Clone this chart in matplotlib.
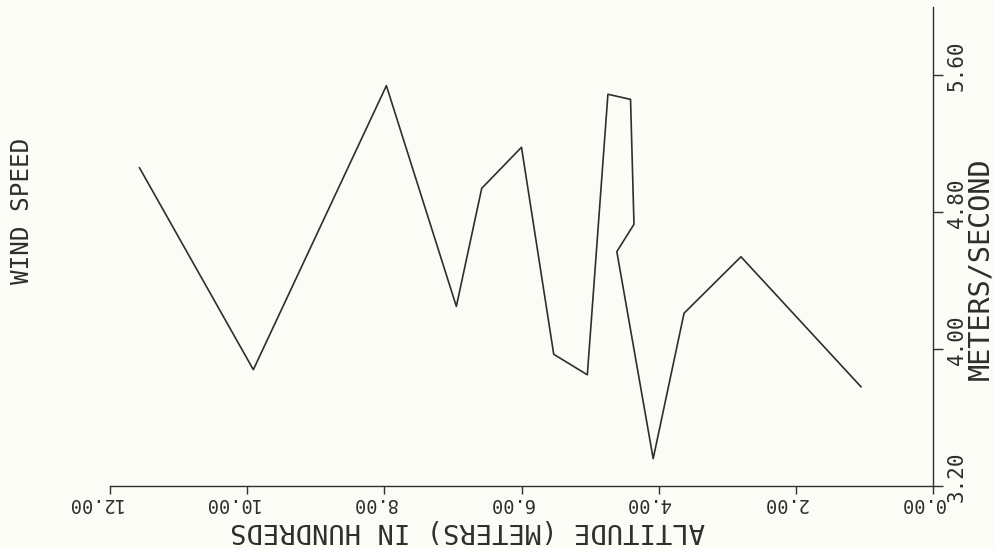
import matplotlib
matplotlib.use("Agg")
import matplotlib.pyplot as plt
from matplotlib.transforms import ScaledTranslation

# Data (altitude in hundreds of meters, wind speed in m/s), in plotting order
altitude = [11.57, 9.91, 7.97, 6.95, 6.58, 6.00, 5.53, 5.04, 4.74, 4.41,
            4.36, 4.61, 4.08, 3.63, 2.80, 1.05]
wind_speed = [5.06, 3.88, 5.54, 4.25, 4.94, 5.18, 3.97, 3.85, 5.49, 5.46,
              4.73, 4.57, 3.36, 4.21, 4.54, 3.78]

x_ticks = [0, 2, 4, 6, 8, 10, 12]
x_ticklabels = ["0.00", "2.00", "4.00", "6.00", "8.00", "10.00", "12.00"]
y_ticks = [3.2, 4.0, 4.8, 5.6]
y_ticklabels = ["3.20", "4.00", "4.80", "5.60"]

x_title = "ALTITUDE (METERS) IN HUNDREDS"
y_title = "METERS/SECOND"
side_title = "WIND SPEED"

BG = "#fcfcf7"
INK = "#2e2e2e"
FONT = "DejaVu Sans Mono"

fig = plt.figure(figsize=(9.95, 5.48), dpi=100, facecolor=BG)
ax = fig.add_axes([110 / 995, 62 / 548, 823 / 995, 479 / 548])
ax.set_facecolor(BG)

ax.plot(altitude, wind_speed, color=INK, linewidth=1.2)

ax.set_xlim(12, 0)
ax.set_ylim(3.2, 6.0)

for s in ["left", "top"]:
    ax.spines[s].set_visible(False)
for s in ["bottom", "right"]:
    ax.spines[s].set_color(INK)
    ax.spines[s].set_linewidth(1.0)

ax.yaxis.tick_right()
ax.set_xticks(x_ticks)
ax.set_xticklabels(x_ticklabels)
ax.set_yticks(y_ticks)
ax.set_yticklabels(y_ticklabels)

ax.tick_params(axis="x", direction="out", length=5.5, width=1.0, color=INK,
               pad=0.3, labelsize=13.5, labelcolor=INK, labelrotation=180)
ax.tick_params(axis="y", direction="out", length=7, width=1.0, color=INK,
               pad=3, labelsize=15, labelcolor=INK, labelrotation=90)

xoff = ScaledTranslation(0.12, 0.0, fig.dpi_scale_trans)
for lab in ax.get_xticklabels():
    lab.set_fontfamily(FONT)
    lab.set_ha("right")
    lab.set_va("top")
    lab.set_transform(lab.get_transform() + xoff)

yoff = ScaledTranslation(0.0, -0.16, fig.dpi_scale_trans)
for lab in ax.get_yticklabels():
    lab.set_fontfamily(FONT)
    lab.set_ha("left")
    lab.set_va("bottom")
    lab.set_transform(lab.get_transform() + yoff)

ax.text(0.435, -44 / 479, x_title, transform=ax.transAxes, rotation=180,
        ha="center", va="center", fontsize=19.5, family=FONT, color=INK)
fig.text(980 / 995, 1 - 269 / 548, y_title, rotation=90,
         ha="center", va="center", fontsize=20.5, family=FONT, color=INK)
fig.text(22 / 995, 1 - 211 / 548, side_title, rotation=90,
         ha="center", va="center", fontsize=17.5, family=FONT, color=INK)

fig.savefig("out.png", dpi=100, facecolor=BG)
